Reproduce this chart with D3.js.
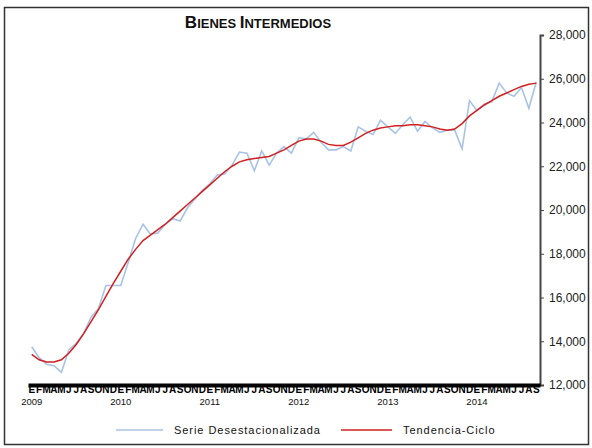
<!DOCTYPE html>
<html>
<head>
<meta charset="utf-8">
<script src="https://cdn.jsdelivr.net/npm/d3@7"></script>
<style>
  body { margin: 0; background: #fff; }
  svg { display: block; font-family: "Liberation Sans", Arial, sans-serif; }
</style>
</head>
<body>
<script>
// months of each year (Spanish initials), Jan 2009 .. Sep 2014
const monthLetters = ["E","F","M","A","M","J","J","A","S","O","N","D"];
const years = [2009, 2010, 2011, 2012, 2013, 2014];
const yTicks = [12000, 14000, 16000, 18000, 20000, 22000, 24000, 26000, 28000];

// Serie Desestacionalizada
const serie = [
  13750, 13250, 12950, 12880, 12580, 13600, 13900, 14350, 15100, 15500, 16550, 16550,
  16550, 17600, 18700, 19350, 18900, 18950, 19350, 19600, 19500, 20100, 20500, 20900,
  21200, 21600, 21650, 22050, 22650, 22600, 21800, 22700, 22050, 22600, 22900, 22600,
  23300, 23250, 23550, 23100, 22750, 22750, 22900, 22700, 23800, 23600, 23450, 24100,
  23800, 23500, 23900, 24250, 23600, 24050, 23750, 23550, 23650, 23650, 22800, 25000,
  24550, 24850, 24950, 25800, 25350, 25200, 25600, 24650, 25850
];

// Tendencia-Ciclo
const tendencia = [
  13400, 13150, 13050, 13050, 13150, 13450, 13850, 14350, 14900, 15450, 16050, 16650,
  17200, 17750, 18200, 18600, 18850, 19100, 19350, 19650, 19950, 20250, 20550, 20850,
  21150, 21450, 21750, 22000, 22200, 22300, 22350, 22400, 22450, 22600, 22750, 22950,
  23150, 23250, 23250, 23150, 23000, 22950, 22950, 23100, 23300, 23500, 23650, 23750,
  23800, 23850, 23850, 23900, 23900, 23850, 23800, 23700, 23650, 23700, 23950, 24300,
  24550, 24800, 25000, 25200, 25350, 25500, 25650, 25750, 25800
];

const width = 592, height = 448;

const svg = d3.select("body").append("svg")
  .attr("width", width).attr("height", height);

// outer frame
svg.append("rect")
  .attr("x", 4.5).attr("y", 7.5)
  .attr("width", 584).attr("height", 437)
  .attr("fill", "none").attr("stroke", "#333").attr("stroke-width", 1.5);

// title in small caps
const title = svg.append("text")
  .attr("x", 258).attr("y", 28)
  .attr("text-anchor", "middle")
  .attr("font-weight", "bold")
  .attr("fill", "#111");
title.append("tspan").attr("font-size", 17).text("B");
title.append("tspan").attr("font-size", 13).text("IENES ");
title.append("tspan").attr("font-size", 17).text("I");
title.append("tspan").attr("font-size", 13).text("NTERMEDIOS");

// scales
const idx = d3.range(serie.length);
const x = d3.scaleBand().domain(idx).range([28, 540]);
const cx = i => x(i) + x.bandwidth() / 2;
const y = d3.scaleLinear().domain([12000, 28000]).range([385, 35]);

// right axis
const yAxis = svg.append("g")
  .attr("transform", "translate(540,0)")
  .call(d3.axisRight(y).tickValues(yTicks).tickSize(4).tickPadding(5)
    .tickFormat(d3.format(",")));
yAxis.select(".domain").attr("stroke", "#444").attr("stroke-width", 2);
yAxis.selectAll(".tick line").attr("stroke", "#444");
yAxis.selectAll("text").attr("font-size", 12)
  .attr("font-family", "Liberation Sans, Arial, sans-serif").attr("fill", "#222");

// lines
const line = d3.line().x((d, i) => cx(i)).y(d => y(d));

svg.append("path").datum(serie)
  .attr("d", line)
  .attr("fill", "none").attr("stroke", "#a8c3e6").attr("stroke-width", 1.6);

svg.append("path").datum(tendencia)
  .attr("d", line)
  .attr("fill", "none").attr("stroke", "#d21f1f").attr("stroke-width", 1.5);

// bottom axis: month initials
const xAxis = svg.append("g")
  .attr("transform", "translate(0,385)")
  .call(d3.axisBottom(x).tickSize(0).tickPadding(1)
    .tickFormat(i => monthLetters[i % 12]));
xAxis.select(".domain").attr("stroke", "#000").attr("stroke-width", 4);
xAxis.selectAll("text")
  .attr("font-size", 10).attr("font-weight", "bold")
  .attr("font-family", "Liberation Sans, Arial, sans-serif").attr("fill", "#000");

// year labels under each January
svg.append("g").selectAll("text")
  .data(years)
  .join("text")
  .attr("x", (d, k) => cx(k * 12))
  .attr("y", 405)
  .attr("text-anchor", "middle")
  .attr("font-size", 9.5)
  .attr("fill", "#111")
  .text(d => d);

// legend
const legend = [
  { name: "Serie Desestacionalizada", color: "#a8c3e6", x1: 116, x2: 163 },
  { name: "Tendencia-Ciclo", color: "#d21f1f", x1: 341, x2: 392 }
];
const lg = svg.append("g").selectAll("g").data(legend).join("g");
lg.append("line")
  .attr("x1", d => d.x1).attr("x2", d => d.x2)
  .attr("y1", 430).attr("y2", 430)
  .attr("stroke", d => d.color).attr("stroke-width", 1.6);
lg.append("text")
  .attr("x", d => d.x2 + 11).attr("y", 434)
  .attr("font-size", 11)
  .attr("letter-spacing", 0.95)
  .attr("fill", "#111")
  .text(d => d.name);
</script>
</body>
</html>
